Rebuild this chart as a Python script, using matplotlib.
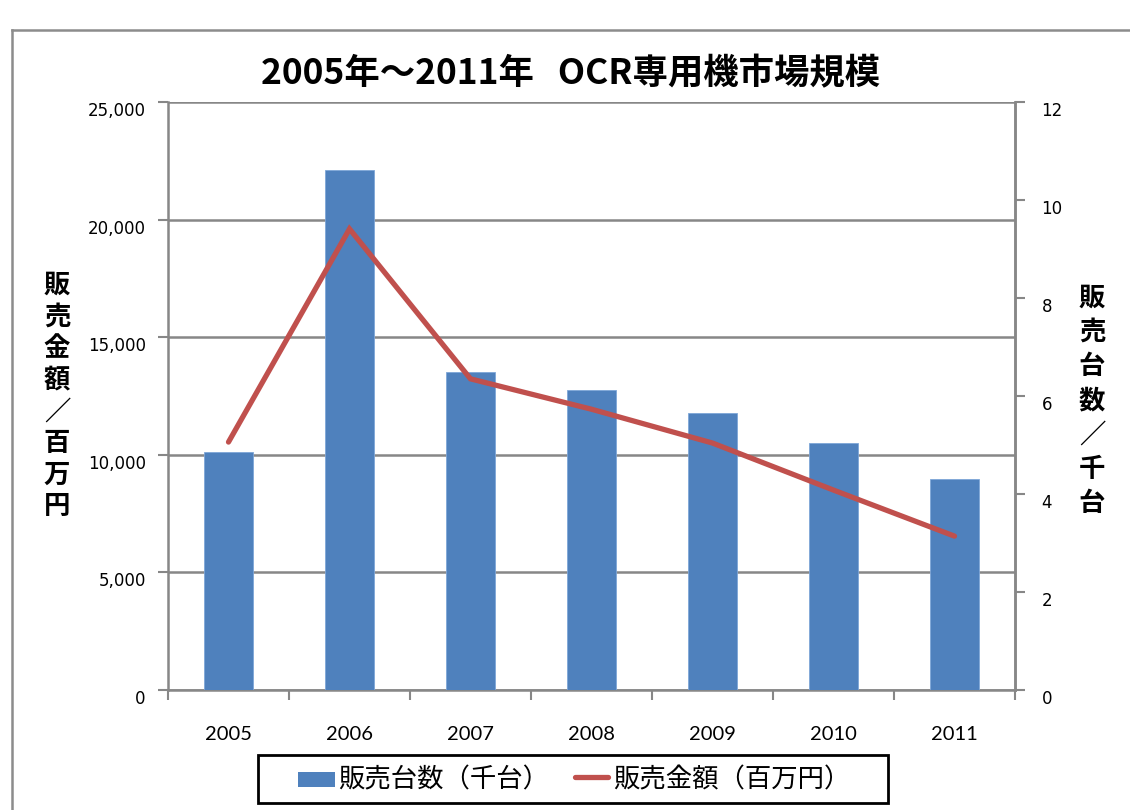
import matplotlib
matplotlib.use("Agg")
import matplotlib.pyplot as plt
from matplotlib.lines import Line2D
from matplotlib.patches import Rectangle
from matplotlib.ticker import FuncFormatter, FixedLocator
import numpy as np

plt.rcParams['font.family'] = ['Noto Sans CJK JP', 'DejaVu Sans']

# ---- data ----
years = ["2005", "2006", "2007", "2008", "2009", "2010", "2011"]
bar_values = [10100, 22100, 13500, 12750, 11770, 10500, 8970]   # drawn on left axis
line_values = [5.06, 9.41, 6.35, 5.73, 5.04, 4.08, 3.14]         # drawn on right axis
left_ticks = [0, 5000, 10000, 15000, 20000, 25000]
right_ticks = [0, 2, 4, 6, 8, 10, 12]
title = "2005年～2011年   OCR専用機市場規模"
left_label = "販売金額／百万円"
right_label = "販売台数／千台"
bar_name = "販売台数（千台）"
line_name = "販売金額（百万円）"

BAR_C = "#4F81BD"
LINE_C = "#C0504D"
GRID_C = "#878787"

W, H = 1130, 810
fig = plt.figure(figsize=(W / 100, H / 100), dpi=100)

def fx(px):
    return px / W

def fy(py):
    return 1 - py / H

# outer chart border (grey)
fig.add_artist(Line2D([fx(12), fx(12)], [fy(30), 0], color="#8c8c8c", lw=1.8, transform=fig.transFigure))
fig.add_artist(Line2D([fx(12), 1.0], [fy(30), fy(30)], color="#8c8c8c", lw=1.8, transform=fig.transFigure))

L, R, T, B = 168, 1015, 102, 690
ax = fig.add_axes([fx(L), fy(B), fx(R) - fx(L), fy(T) - fy(B)])
ax2 = ax.twinx()

x = np.arange(len(years))
ax.bar(x, bar_values, width=0.4, color=BAR_C, edgecolor="#7ea6d8", linewidth=0.6, zorder=3)
ax2.plot(x, line_values, color=LINE_C, lw=3.8, solid_capstyle="round", solid_joinstyle="miter", zorder=4)

ax.set_xlim(-0.5, len(years) - 0.5)
ax.set_ylim(0, 25000)
ax2.set_ylim(0, 12)

ax.set_yticks(left_ticks)
ax.yaxis.set_major_formatter(FuncFormatter(lambda v, p: f"{int(v):,}"))
ax2.set_yticks(right_ticks)

ax.grid(axis="y", color=GRID_C, lw=1.8, zorder=0)
ax.set_axisbelow(True)

# x ticks: labels at categories, tick marks at boundaries
ax.set_xticks(x)
ax.set_xticklabels(years, fontsize=14.5, family=["Lato", "DejaVu Sans"])
ax.tick_params(axis="x", which="major", length=0, pad=26)
ax.xaxis.set_minor_locator(FixedLocator(np.arange(-0.5, len(years), 1.0)))
ax.tick_params(axis="x", which="minor", length=7, width=1.5, color=GRID_C, direction="out")

ax.tick_params(axis="y", length=7, width=1.5, color=GRID_C, labelsize=12, pad=9)
ax2.tick_params(axis="y", length=7, width=1.5, color=GRID_C, labelsize=12, pad=12)
for lab in ax.get_yticklabels() + ax2.get_yticklabels():
    lab.set_va("top")
    lab.set_family(["DejaVu Sans"])

for a in (ax, ax2):
    a.spines["top"].set_visible(False)
    for s in ("left", "right", "bottom"):
        a.spines[s].set_color(GRID_C)
        a.spines[s].set_linewidth(1.8)
ax2.spines["left"].set_visible(False)
ax2.spines["bottom"].set_visible(False)

# title
fig.text(fx(571), fy(74), title, ha="center", va="center", fontsize=25.5, fontweight="bold")

# stacked vertical labels
for i, ch in enumerate(left_label):
    fig.text(fx(57), fy(285 + i * 31.7), ch, ha="center", va="center", fontsize=19, fontweight="bold")
for i, ch in enumerate(right_label):
    fig.text(fx(1092), fy(298 + i * 34.2), ch, ha="center", va="center", fontsize=19, fontweight="bold")

# legend (drawn as a framed box with two entries)
fig.add_artist(Rectangle((fx(258), fy(803)), fx(888) - fx(258), fy(755) - fy(803),
                         transform=fig.transFigure, facecolor="white", edgecolor="black", lw=2))
fig.add_artist(Rectangle((fx(298), fy(787)), fx(335) - fx(298), fy(772) - fy(787),
                         transform=fig.transFigure, facecolor=BAR_C, edgecolor="none"))
fig.text(fx(338), fy(780), bar_name, ha="left", va="center", fontsize=19)
fig.add_artist(Line2D([fx(575), fx(608)], [fy(777), fy(777)], color=LINE_C, lw=3.8,
                      solid_capstyle="round", transform=fig.transFigure))
fig.text(fx(613), fy(780), line_name, ha="left", va="center", fontsize=19)

fig.savefig("out.png", dpi=100)
